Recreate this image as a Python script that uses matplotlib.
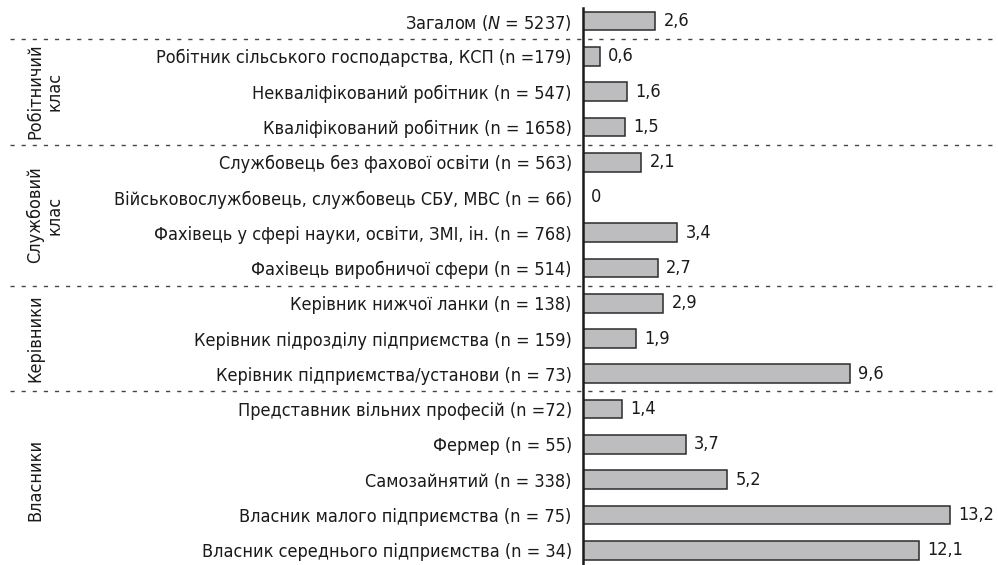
import matplotlib
matplotlib.use('Agg')
import matplotlib.pyplot as plt
import matplotlib.transforms as mtransforms
from matplotlib import font_manager

# Data
categories = [
    'Загалом ($\\mathit{N}$ = 5237)',
    'Робітник сільського господарства, КСП (n =179)',
    'Некваліфікований робітник (n = 547)',
    'Кваліфікований робітник (n = 1658)',
    'Службовець без фахової освіти (n = 563)',
    'Військовослужбовець, службовець СБУ, МВС (n = 66)',
    'Фахівець у сфері науки, освіти, ЗМІ, ін. (n = 768)',
    'Фахівець виробничої сфери (n = 514)',
    'Керівник нижчої ланки (n = 138)',
    'Керівник підрозділу підприємства (n = 159)',
    'Керівник підприємства/установи (n = 73)',
    'Представник вільних професій (n =72)',
    'Фермер (n = 55)',
    'Самозайнятий (n = 338)',
    'Власник малого підприємства (n = 75)',
    'Власник середнього підприємства (n = 34)',
]
values = [2.6, 0.6, 1.6, 1.5, 2.1, 0.0, 3.4, 2.7, 2.9, 1.9, 9.6, 1.4, 3.7, 5.2, 13.2, 12.1]

groups = ['Робітничий\nклас', 'Службовий\nклас', 'Керівники', 'Власники']
group_rows = [(1, 3), (4, 7), (8, 10), (11, 15)]

# narrow font if there is one (DejaVu Sans Condensed), else plain DejaVu
cond = [f for f in font_manager.fontManager.ttflist
        if 'condensed' in f.fname.lower() and 'dejavusans' in f.fname.lower().replace('-', '')
        and f.style == 'normal' and f.weight in (400, 'normal')]
if cond:
    main_font = cond[0].name
    plt.rcParams['font.stretch'] = cond[0].stretch
    fsize = 13
else:
    main_font = 'DejaVu Sans'
    fsize = 12
plt.rcParams['font.family'] = [main_font, 'DejaVu Sans']
plt.rcParams['mathtext.fontset'] = 'custom'
plt.rcParams['mathtext.it'] = main_font + ':italic'
plt.rcParams['mathtext.rm'] = main_font

fig = plt.figure(figsize=(9.98, 5.65), dpi=100)
ax = fig.add_axes([0.584, 0.0, 0.416, 1 - 8 / 565])

n = len(categories)
ypos = list(range(n))
ax.barh(ypos, values, height=0.53, color='#bdbdc0', edgecolor='#2b2b2b', linewidth=1.1, zorder=2)

for y, v in zip(ypos, values):
    ax.text(v + 0.3, y, ('%.1f' % v).replace('.', ',') if v else '0', va='center', ha='left',
            fontsize=fsize, color='#1a1a1a')

ax.set_xlim(0, 14.93)
ax.set_ylim(15.42, -0.37)
ax.set_yticks(ypos)
ax.set_yticklabels(categories, fontsize=fsize, color='#1a1a1a')
ax.tick_params(axis='y', length=0, pad=8)
ax.set_xticks([])
for s in ['top', 'right', 'bottom']:
    ax.spines[s].set_visible(False)
ax.spines['left'].set_linewidth(1.8)
ax.spines['left'].set_color('#1a1a1a')

# dashed group separators across the whole figure
trans = mtransforms.blended_transform_factory(fig.transFigure, ax.transData)
for y in [0.5, 3.5, 7.5, 10.5]:
    ax.plot([0.01, 1.0], [y, y], transform=trans, clip_on=False, color='#444444',
            linewidth=1.0, linestyle=(0, (3, 5)), zorder=1)

# rotated group titles
xpos = [0.045, 0.045, 0.035, 0.035]
for g, (a, b), x in zip(groups, group_rows, xpos):
    ax.text(x, (a + b) / 2, g, transform=trans, rotation=90, ha='center', va='center',
            multialignment='center', fontsize=fsize, color='#1a1a1a', linespacing=1.1)

fig.savefig('out.png', dpi=100)
